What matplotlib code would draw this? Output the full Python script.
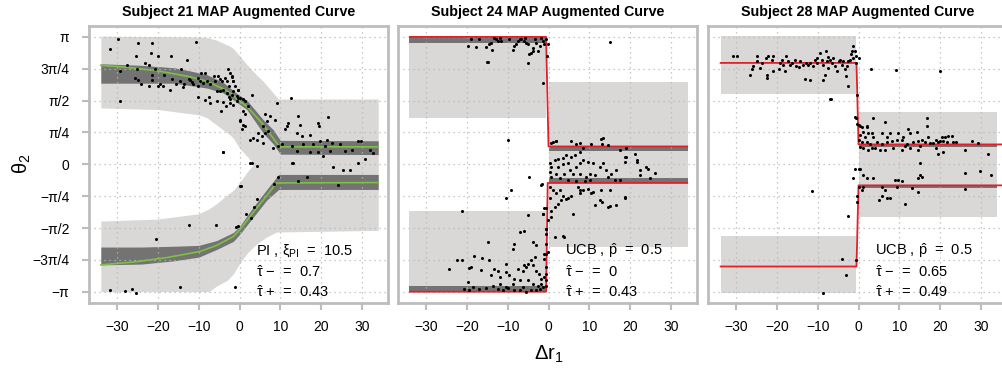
import numpy as np
import matplotlib
matplotlib.use("Agg")
import matplotlib.pyplot as plt

plt.rcParams['font.family'] = ['Liberation Sans', 'DejaVu Sans']
plt.rcParams['mathtext.fontset'] = 'custom'
plt.rcParams['mathtext.rm'] = 'Liberation Sans'
plt.rcParams['mathtext.it'] = 'Liberation Sans'
plt.rcParams['mathtext.bf'] = 'Liberation Sans:bold'

PI = np.pi
titles = ["Subject 21 MAP Augmented Curve", "Subject 24 MAP Augmented Curve", "Subject 28 MAP Augmented Curve"]
xticks = [-30, -20, -10, 0, 10, 20, 30]
yticks = [PI, 3*PI/4, PI/2, PI/4, 0, -PI/4, -PI/2, -3*PI/4, -PI]
yticklabels = ["π", "3π/4", "π/2", "π/4", "0", "−π/4", "−π/2", "−3π/4", "−π"]

# ---------------- Panel 1 (Subject 21, PI) ----------------
s21_up_x = [-34, -28.5, -20.4, -12.2, -8.1, -4.0, -2.3, 0.1, 1.8, 5.8, 9.8, 34]
s21_up_y = [2.44, 2.40, 2.31, 2.16, 2.05, 1.86, 1.76, 1.55, 1.43, 0.98, 0.43, 0.43]
s21_lo_x = [-34, -26.0, -17.8, -9.7, -5.6, -1.5, 0.1, 3.4, 6.7, 9.1, 34]
s21_lo_y = [-2.48, -2.41, -2.30, -2.15, -2.0, -1.78, -1.61, -1.18, -0.77, -0.46, -0.45]
s21_updark_x = [-34, -24, -16, -12, -8, -4, -0.7, 1.8, 5.8, 8.3, 10, 34]
s21_updark_top = [2.48, 2.44, 2.38, 2.30, 2.21, 2.02, 1.75, 1.58, 1.10, 0.85, 0.59, 0.58]
s21_updark_bot = [2.0, 2.0, 2.0, 1.94, 1.88, 1.76, 1.53, 1.35, 0.77, 0.50, 0.25, 0.24]
s21_lodark_x = [-34, -24, -16, -10, -5.6, -1.5, 0.1, 3.4, 6.7, 9.6, 34]
s21_lodark_top = [-2.04, -2.04, -2.02, -2.0, -1.88, -1.68, -1.52, -1.05, -0.62, -0.25, -0.25]
s21_lodark_bot = [-2.48, -2.46, -2.38, -2.29, -2.10, -1.90, -1.72, -1.30, -0.88, -0.62, -0.62]
s21_uplight_x = [-34, -20, -10, -8, -5.6, -2.3, -1.5, 0, 1.8, 4, 5.8, 9.5, 34]
s21_uplight_top = [3.16, 3.15, 3.14, 3.13, 3.06, 2.91, 2.85, 2.68, 2.46, 2.22, 2.05, 1.61, 1.61]
s21_uplight_bot = [1.39, 1.35, 1.22, 1.15, 0.97, 0.72, 0.64, 0.40, 0.2, -0.05, -0.05, -0.05, -0.05]
s21_lolight_x = [-34, -20, -10, -7.5, -5.6, -3, -1.5, 0, 1.8, 3.4, 4, 6.7, 9.1, 34]
s21_lolight_top = [-1.40, -1.35, -1.22, -1.10, -0.97, -0.75, -0.64, -0.45, -0.2, 0.0, 0.05, 0.05, 0.05, 0.05]
s21_lolight_bot = [-3.14, -3.14, -3.14, -3.14, -3.0, -2.86, -2.70, -2.45, -2.2, -2.04, -1.98, -1.79, -1.67, -1.63]
s21_px = [-29.9, -31.7, -24.9, -21.4, -10.7, -21.6, -19.9, -25.5, -16.8, -12.9, -23.2, -22.2, -27.5,
          -29.2, -25.2, -20.6, -21.5, -18.5, -14.4, -25.6, -24.8, -24.2, -22.2, -21.5, -19.9, -19.5,
          -18.8, -17.0, -16.6, -15.6, -14.6, -13.9, -13.6, -12.5, -12.1, -11.7, -11.5, -10.3, -10.1,
          -9.4, -8.4, -9.7, -9.0, -8.0, -7.2, -6.2, -6.0, -5.3, -4.8, -4.4, -3.6, -3.1, -2.9, -2.3,
          -1.9, -1.7, -5.6, -4.8, -4.0, -3.1, -2.6, -10.3, -8.4, -7.6, -7.2, -5.6, -4.1, -2.3, -1.5,
          -0.7, -0.3, -29.3, -4.6, -3.3, -4.0, 0.0, -0.3, -1.1, -2.7, -1.5,
          -1.9, -1.5, -0.3, -0.7, 0.1, 0.9, 1.3, -1.9, -2.3, 3.0, 2.2, 0.9, 1.3, 0.1, 0.9, 1.3, 0.5,
          2.6, 3.4, 4.2, 5.4, 6.2, 5.8, 6.7, 7.5, 8.7, 9.1, 12.5, 12.0, 11.6, 11.1, 14.8, 14.4, 14.0,
          15.2, 17.3, 19.3, 19.5, 21.8, 21.4, 20.9, 19.7, 18.1, 15.6, 14.0, 12.8, 10.3, 9.5, 8.3,
          12.8, 17.3, 19.3, 20.5, 22.2, 22.6, 24.6, 25.8, 27.5, 29.1, 29.9, 32.0, 32.8, 30.7, 3.0,
          5.8, 6.2, 7.1, 4.6,
          -4.1, 2.6, 4.2, 13.2, 25.4, 27.1, 29.1, 23.0, 9.5, 16.5, 14.4, 24.2, 0.1,
          0.3, 8.4, 4.2, 3.6, 1.5, 2.9, -0.3, -0.9, -5.8, -12.4, -20.5, -14.6, -1.0, -31.7, -28.0,
          -26.4, -25.3]
s21_py = [3.10, 2.85, 3.00, 3.00, 3.01, 2.75, 2.68, 2.68, 2.68, 2.58, 2.50, 2.44, 2.44,
          2.30, 2.34, 2.34, 2.21, 2.21, 2.35, 2.12, 2.07, 1.99, 1.93, 2.09, 1.93, 1.99,
          1.94, 1.83, 2.11, 1.99, 2.05, 1.91, 1.99, 2.11, 2.09, 2.02, 1.97, 2.13, 1.93,
          2.25, 2.25, 2.05, 2.01, 2.05, 1.99, 2.17, 2.05, 2.17, 2.11, 2.05, 2.14, 2.05, 2.35, 2.25,
          2.15, 2.05, 1.80, 1.80, 1.84, 1.76, 1.66, 1.66, 1.58, 1.65, 1.51, 1.56, 1.53, 1.60, 1.45,
          1.56, 1.64, 1.56, 1.31, 1.43, 0.30, 1.06, 1.84, 1.93, 1.93, 1.80,
          2.17, 2.05, 1.84, 1.68, 1.64, 1.60, 1.56, 1.72, 1.51, 1.72, 1.43, 1.31, 1.23, 1.10, 0.98, 0.94, 0.86,
          0.61, 0.65, 0.61, 0.69, 0.77, 0.94, 1.06, 1.19, 1.10, 1.51, 1.64, 1.02, 0.94, 0.86, 0.98, 1.19, 0.77,
          0.69, 0.72, 1.02, 0.94, 1.17, 0.61, 0.44, 0.57, 0.49, 0.49, 0.32, 0.44, 0.49, 0.44, 0.40,
          0.03, 0.30, 0.30, 0.20, 0.32, 0.53, 0.49, 0.32, 0.35, 0.57, 0.57, 0.36, 0.28, 0.13, 0.03,
          0.53, 1.23, 0.81, 0.77,
          0.30, 0.04, -0.05, 0.04, -0.15, -0.14, 0.04, -0.06, -0.31, -0.31, -0.40, -0.52, -0.54,
          -0.53, -0.48, -0.85, -1.05, -1.23, -1.33, -1.53, -1.55, -1.49, -1.49, -1.84, -3.03, -3.03, -3.11, -3.13,
          -3.07, -3.18]

# ---------------- Panel 2 (Subject 24, UCB) ----------------
s24_up_x = [-34, -0.6, 0.0, 34]
s24_up_y = [3.1416, 3.1416, 0.44, 0.44]
s24_lo_x = [-34, -0.6, -0.2, 34]
s24_lo_y = [-3.1416, -3.1416, -0.46, -0.46]
s24_light = [(-34.2, -0.6, 1.13, 3.1416), (0.0, 34.2, -1.2, 2.03), (0.0, 34.2, -2.04, 1.2), (-34.2, -0.6, -3.1416, -1.15)]
s24_dark = [(-34.2, -0.6, 3.0, 3.1416), (0.0, 34.2, 0.33, 0.44), (-34.2, -0.6, -3.1416, -3.0), (0.0, 34.2, -0.46, -0.35)]
s24_px = [-19.8, -17.8, -19.0, -17.0, -15.3, -14.5, -13.8, -14.0, -12.9, -12.5, -12.0, -11.6, -13.3, -14.9,
          -9.6, -8.8, -8.4, -7.9, -7.5, -7.1, -6.7, -5.9, -5.7, -5.5, -5.1, -5.1, -4.7, -4.3, -3.9, -3.4,
          -3.0, -3.9, -2.6, -2.2, -1.8, -1.4, -1.0, -0.6, -0.2, -0.3, -1.4, 15.0, -15.0, -10.0, 0.7, 1.9,
          1.07, 1.9, 5.6, 6.8, 7.6, 10.5, 12.9, 13.2, 14.6, 17.5, 18.9, 7.6, 8.4, 5.6, 6.4, 4.3, 3.5, 2.3,
          1.5, 0.25, 0.66, 2.3, 3.5, 4.8, 5.2, 6.8, 7.6, 8.4, 9.7, 10.9, 12.5, 13.4, 14.2, 15.4, 16.6, 18.7,
          19.1, 21.6, 22.4, 24.0, 26.1, 24.8, 22.4, 17.5, 16.2, 14.6, 11.3, 10.1, 9.3, 7.6, 6.0, 3.9, 1.9,
          0.66, 0.25, 2.7, 4.8, 6.8, 8.9, 10.1, 0.25, 1.07, 1.9, 2.7, 3.5, 4.3, 3.1, 2.3, 1.5, 0.66, 0.25,
          4.8, 5.6, 7.2, 8.4, 9.7, 10.5, 10.9, 12.9, 15.0, 7.6, 11.3, 12.5, 14.6, 16.6, 18.7, 6.0, -0.2,
          0.66, -0.6, 1.5, 3.9, -1.8, -1.4, -0.6, -1.0, -0.2,
          13.4, 21.1, 21.6, 24.4, 18.7, 18.7, 15.0, 13.0, 7.6, 3.5,
          -4.8, -1.5, -9.3, -10.4, -21.2, -14.9, -7.1, -6.1, -5.1, -8.4, -8.8, -3.9, -3.0, -3.4, -4.3,
          -5.5, -24.3, -22.5, -21.2, -18.2, -16.2, -14.7, -19.4, -19.0, -16.6, -13.3, -12.5, -14.1, -12.0,
          -10.4, -10.4, -9.6, -8.4, -7.5, -6.3, -5.9, -5.1, -3.9, -3.0, -2.4, -1.8, -1.0, -1.8, -2.6, -3.9,
          -5.1, -7.1, -8.8, -10.4, -12.0, -13.7, -15.3, -17.0, -18.6, -19.8, -20.7, -19.4, -12.5, -11.2,
          -10.0, -8.4, -7.1, -6.3, -5.5, -4.3, -3.0, -2.2, -1.4, -0.7, -0.6, -0.7, -0.6, -1.0, -0.6, -0.7,
          -0.6, -0.6, -1.4, -1.0]
s24_py = [2.91, 2.89, 3.10, 3.08, 2.90, 2.96, 2.83, 2.98, 3.08, 3.04, 3.12, 3.04, 3.12, 2.52,
          3.08, 2.83, 2.91, 2.96, 3.04, 3.08, 3.08, 3.04, 3.12, 3.00, 2.96, 2.50, 2.71, 2.75, 2.79, 3.08,
          3.00, 2.87, 2.79, 2.91, 3.12, 3.04, 2.96, 3.08, 2.96, 2.67, 2.01, 3.02, 2.53, 0.61, 0.53, 0.57,
          0.55, 0.58, 0.58, 0.51, 0.53, 0.51, 0.63, 0.49, 0.47, 0.36, 0.39, 0.30, 0.39, 0.18, 0.22, 0.22, 0.16, 0.14,
          0.10, 0.02, -0.07, -0.07, 0.0, 0.02, -0.15, -0.07, 0.02, 0.10, 0.06, 0.02, -0.07, 0.02, -0.15, -0.23, -0.15, 0.06,
          0.18, 0.06, -0.15, -0.07, -0.21, -0.35, -0.27, -0.38, -0.38, -0.31, -0.27, -0.23, -0.31, -0.23, -0.23, -0.23, -0.23,
          -0.31, -0.19, -0.35, -0.38, -0.40, -0.40, -0.38, -0.56, -0.64, -0.72, -0.64, -0.77, -0.85, -0.89, -0.97, -1.05, -1.14, -0.82,
          -0.82, -0.77, -0.56, -0.64, -0.60, -0.71, -0.68, -0.63, -0.64, -0.72, -1.01, -0.89, -1.05, -1.01, -0.82, -1.22, -1.38,
          -1.30, -1.59, -1.79, -1.79, -0.52, -1.22, -1.08, -2.21, -2.17,
          0.66, 0.26, 0.10, -0.11, 0.18, -0.81, -1.04, -0.93, -0.64, -1.78,
          -0.31, -0.49, -0.63, -0.82, -1.16, -1.92, -1.67, -1.65, -1.26, -1.96, -2.08, -1.92, -2.0, -2.29, -2.37,
          -2.54, -2.58, -2.35, -2.37, -2.26, -2.30, -2.35, -2.55, -2.54, -2.60, -2.58, -2.62, -2.74, -2.78,
          -2.45, -2.66, -2.74, -2.82, -2.58, -2.62, -2.49, -2.45, -2.49, -2.62, -2.70, -2.82, -2.78, -2.95, -2.99, -2.95,
          -2.86, -2.86, -2.95, -3.03, -2.96, -2.99, -3.05, -3.07, -3.03, -2.91, -3.07, -3.11, -3.07, -3.09,
          -3.05, -3.11, -3.09, -3.03, -3.15, -3.11, -3.11, -3.07, -3.03, -2.99, -2.86, -2.70, -2.54, -2.33, -2.21, -1.96,
          -1.71, -1.59, -1.22, -1.08]

# ---------------- Panel 3 (Subject 28, UCB) ----------------
s28_up_x = [-33.8, -0.5, 0.0, 36]
s28_up_y = [2.50, 2.50, 0.49, 0.49]
s28_lo_x = [-33.8, -0.5, 0.0, 36]
s28_lo_y = [-2.52, -2.52, -0.52, -0.52]
s28_light = [(-33.8, -0.5, 1.73, 3.16), (0.0, 33.9, -1.3, 1.29), (-33.8, -0.5, -3.17, -1.77)]
s28_dark = [(0.0, 33.9, 0.42, 0.49), (0.0, 33.9, -0.58, -0.52)]
s28_px = [-30.8, -29.7, -26.6, -26.2, -25.8, -24.9, -24.8, -24.1, -23.7, -22.7, -22.5, -22.5, -22.1, -21.3,
          -21.0, -20.9, -19.6, -19.2, -18.8, -18.4, -18.0, -17.8, -17.4, -16.9, -16.4, -15.6, -15.3, -14.7,
          -14.3, -13.7, -13.1, -12.9, -12.5, -11.9, -11.9, -11.1, -10.7, -10.2, -10.1, -9.4, -9.0, -8.8, -8.6,
          -8.2, -8.0, -7.8, -7.4, -7.4, -7.0, -6.6, -6.2, -5.8, -5.3, -4.9, -4.5, -4.1, -3.7, -3.3, -3.1, -2.9,
          -2.5, -2.5, -2.1, -1.9, -1.7, -1.4, -1.3, -0.9, -0.6, 0.0, -0.6, -7.0, -0.4, -0.6, 0.0, 0.4, 2.0,
          3.0, 9.2, 20.0, -6.8, -11.3, -2.6, -4.1, -3.1, -8.6, -0.7,
          -0.9, -0.4, 0.8, 2.0, 3.5, 6.5, 1.2, 2.4, 3.2, 0.4, 1.6, 3.6, 5.7, 6.9, 7.7, 9.7, 11.0, 12.2, 12.6,
          14.3, 16.7, 16.9, 17.1, 19.1, 20.4, 21.2, 22.0, 22.8, 24.0, 0.0, 0.8, 2.0, 2.8, 4.5, 5.7, 6.9, 8.1,
          9.4, 10.6, 11.8, 13.4, 14.6, 15.5, 16.3, 17.5, 18.3, 19.5, 20.0, 20.8, 21.6, 23.2, 27.9, 29.3, 0.4,
          1.2, 2.4, 3.2, 4.0, 5.3, 6.5, 8.5, 10.6, 11.4, 12.6, 14.6, 15.1, 19.1, 19.5, 20.8, 26.1, 31.8, -0.9,
          0.0, 0.4, -1.3, 1.2, 2.0, 3.6, 15.1, 15.1, 14.6, 15.5, 8.9, 9.7, 10.6, 9.4, 13.0, 14.6, -0.4, 0.0,
          1.2, 0.8, 5.7, 6.5, 5.7, 6.9, 7.7, 4.9, 11.4, -0.4, 26.1, 29.8, 32.6, 26.1]
s28_py = [2.68, 2.68, 2.21, 2.34, 2.42, 2.54, 2.67, 2.38, 2.50, 2.62, 2.21, 2.13, 2.67, 2.58,
          2.30, 2.67, 2.34, 2.50, 2.58, 2.46, 2.30, 2.68, 2.54, 2.46, 2.50, 2.58, 2.42, 2.40,
          2.54, 2.44, 2.11, 2.49, 2.44, 2.09, 2.50, 2.42, 2.58, 2.62, 2.50, 2.75, 2.58, 2.44, 2.09,
          2.21, 2.79, 2.54, 2.65, 2.38, 2.58, 2.50, 2.62, 2.42, 2.30, 2.54, 2.58, 2.46, 2.54, 2.34, 2.17, 2.42,
          1.93, 2.54, 2.58, 2.71, 2.79, 2.62, 2.91, 2.79, 2.68, 2.62, 2.50, 1.61, 1.72, 1.14, 0.98, 0.94, 0.94,
          2.36, 2.32, 2.30, 1.62, -0.67, -1.28, -2.33, -2.72, -3.17, -2.37,
          1.17, 1.00, 0.92, 0.92, 1.15, 1.04, 0.80, 0.76, 0.76, 0.72, 0.67, 0.67, 0.76, 0.67, 0.77, 0.77, 0.67, 0.88, 0.77,
          0.80, 1.15, 0.94, 0.67, 0.61, 0.67, 0.67, 0.69, 0.69, 0.55, 0.59, 0.55, 0.55, 0.51, 0.55, 0.51, 0.55, 0.58,
          0.59, 0.59, 0.51, 0.55, 0.58, 0.59, 0.55, 0.53, 0.53, 0.55, 0.58, 0.58, 0.55, 0.55, 0.58, 0.53, 0.43,
          0.39, 0.35, 0.39, 0.39, 0.36, 0.35, 0.39, 0.35, 0.44, 0.39, 0.36, 0.44, 0.39, 0.26, 0.30, 0.35, 0.25, -0.11,
          -0.11, -0.11, -0.35, -0.27, -0.33, -0.35, 0.03, -0.27, -0.35, -0.31, -0.38, -0.38, -0.41, -0.56, -0.58, -0.68, -0.79, -0.56,
          -0.56, -0.64, -0.56, -0.63, -0.79, -0.82, -0.82, -0.87, -0.99, -0.93, -0.21, -0.16, -0.27, -0.60]

annotations = [
    ["PI , $\\xi_{\\mathrm{PI}}$  =  10.5", "$\\hat{\\tau}$ −  =  0.7", "$\\hat{\\tau}$ +  =  0.43"],
    ["UCB , $\\hat{\\mathrm{p}}$  =  0.5", "$\\hat{\\tau}$ −  =  0", "$\\hat{\\tau}$ +  =  0.43"],
    ["UCB , $\\hat{\\mathrm{p}}$  =  0.5", "$\\hat{\\tau}$ −  =  0.65", "$\\hat{\\tau}$ +  =  0.49"],
]
ann_y = [-2.12, -2.67, -3.16]

LIGHT = '#d9d8d7'
DARK = '#737373'
GREEN = '#7cc142'
RED = '#e0202a'
FRAME = '#bdbdbd'
GRID = '#b8b8b8'

W, H = 1002, 372
fig = plt.figure(figsize=(W/100, H/100), dpi=100)
lefts = [89, 398, 708]
axw = 299
top, bot = 26, 303
axes = []
for i, l in enumerate(lefts):
    ax = fig.add_axes([l/W, 1 - bot/H, axw/W, (bot-top)/H])
    axes.append(ax)

for i, ax in enumerate(axes):
    ax.set_xlim(-36.9, 36.4)
    ax.set_ylim(-3.42, 3.41)
    ax.set_xticks(xticks)
    ax.set_yticks(yticks)
    ax.set_axisbelow(True)
    ax.grid(True, color=GRID, linestyle=(0, (1, 3)), linewidth=0.9)
    for sp in ax.spines.values():
        sp.set_color(FRAME)
        sp.set_linewidth(2.0)
    ax.tick_params(axis='both', colors=FRAME, length=5, width=1.5, labelsize=10, labelcolor='black')
    ax.tick_params(axis='x', pad=7)
    ax.tick_params(axis='y', pad=9)
    ax.set_xticklabels(["−30", "−20", "−10", "0", "10", "20", "30"])
    if i == 0:
        ax.set_yticklabels(yticklabels)
    else:
        ax.tick_params(axis='y', left=False, labelleft=False)
    ax.set_title(titles[i], fontsize=10.3, fontweight='bold', pad=7)

# Panel 1
ax = axes[0]
ax.fill_between(s21_uplight_x, s21_uplight_bot, s21_uplight_top, color=LIGHT, lw=0, zorder=0.2)
ax.fill_between(s21_lolight_x, s21_lolight_bot, s21_lolight_top, color=LIGHT, lw=0, zorder=0.2)
ax.fill_between(s21_updark_x, s21_updark_bot, s21_updark_top, color=DARK, lw=0, zorder=0.3)
ax.fill_between(s21_lodark_x, s21_lodark_bot, s21_lodark_top, color=DARK, lw=0, zorder=0.3)
ax.plot(s21_up_x, s21_up_y, color=GREEN, lw=1.2, zorder=2)
ax.plot(s21_lo_x, s21_lo_y, color=GREEN, lw=1.2, zorder=2)
ax.plot(s21_px, s21_py, 'o', color='black', ms=2.2, mew=0, zorder=3)

# Panel 2
ax = axes[1]
for (x0, x1, y0, y1) in s24_light:
    ax.fill_between([x0, x1], [y0, y0], [y1, y1], color=LIGHT, lw=0, zorder=0.2)
for (x0, x1, y0, y1) in s24_dark:
    ax.fill_between([x0, x1], [y0, y0], [y1, y1], color=DARK, lw=0, zorder=0.3)
ax.plot(s24_up_x, s24_up_y, color=RED, lw=1.3, zorder=2)
ax.plot(s24_lo_x, s24_lo_y, color=RED, lw=1.3, zorder=2)
ax.plot(s24_px, s24_py, 'o', color='black', ms=2.2, mew=0, zorder=3)

# Panel 3
ax = axes[2]
for (x0, x1, y0, y1) in s28_light:
    ax.fill_between([x0, x1], [y0, y0], [y1, y1], color=LIGHT, lw=0, zorder=0.2)
for (x0, x1, y0, y1) in s28_dark:
    ax.fill_between([x0, x1], [y0, y0], [y1, y1], color=DARK, lw=0, zorder=0.3)
ax.plot(s28_up_x, s28_up_y, color=RED, lw=1.3, zorder=2)
ax.plot(s28_lo_x, s28_lo_y, color=RED, lw=1.3, zorder=2)
ax.plot(s28_px, s28_py, 'o', color='black', ms=2.2, mew=0, zorder=3)

for i, ax in enumerate(axes):
    for j, txt in enumerate(annotations[i]):
        ax.text(4.0, ann_y[j], txt, fontsize=10.5, ha='left', va='center', zorder=4)

fig.text(549/W, 1 - 354/H, "Δr$_1$", fontsize=14.5, ha='center', va='center')
fig.text(22/W, 1 - 164/H, "θ$_2$", fontsize=14.5, ha='center', va='center', rotation=90)

fig.savefig("out.png", dpi=100)
